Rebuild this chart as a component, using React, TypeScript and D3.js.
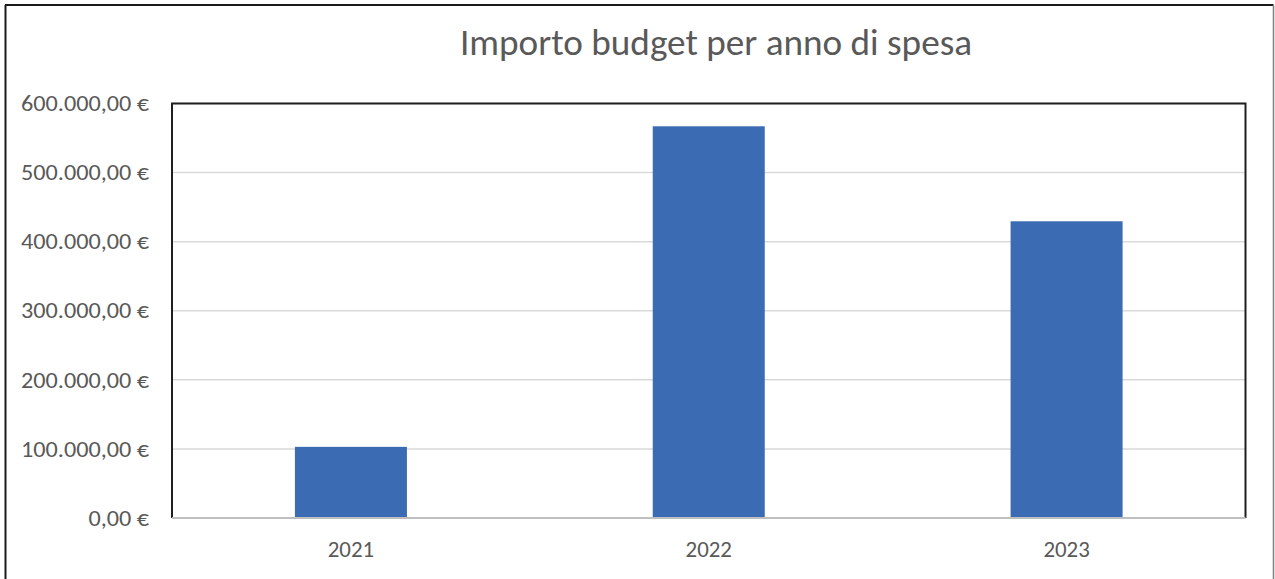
import * as d3 from "d3";

const years = ["2021", "2022", "2023"];
const amounts = [103000, 567000, 429500];
const yTicks = [0, 100000, 200000, 300000, 400000, 500000, 600000];

const width = 1275;
const height = 579;
const margin = { top: 103.5, right: 29.5, bottom: 61, left: 172 };

const fmtIt = (v: number) => {
  const [int, dec] = v.toFixed(2).split(".");
  return int.replace(/\B(?=(\d{3})+(?!\d))/g, ".") + "," + dec + " €";
};

const App = () => {
  const x = d3
    .scaleBand<string>()
    .domain(years)
    .range([margin.left, width - margin.right])
    .paddingInner(0.687)
    .paddingOuter(0.3435);
  const y = d3
    .scaleLinear()
    .domain([0, 600000])
    .range([height - margin.bottom, margin.top]);

  const font = "Carlito, Calibri, 'Liberation Sans', sans-serif";
  const grey = "#595959";

  return (
    <div style={{ position: "absolute", left: 0, top: 0 }}>
      <svg width={width} height={height} viewBox={`0 0 ${width} ${height}`} fontFamily={font}>
        <rect x={0} y={0} width={width} height={height} fill="#fff" />
        {/* outer frame */}
        <line x1={5.5} y1={5} x2={5.5} y2={height} stroke="#1a1a1a" strokeWidth={2} />
        <line x1={5} y1={5} x2={width - 1.5} y2={5} stroke="#1a1a1a" strokeWidth={2} />
        <line x1={width - 1.5} y1={5} x2={width - 1.5} y2={height} stroke="#7f7f7f" strokeWidth={1.5} />

        <text x={716} y={55} textAnchor="middle" fontSize={36} fill={grey} textLength={512} lengthAdjust="spacingAndGlyphs">
          Importo budget per anno di spesa
        </text>

        {yTicks.slice(1).map((t) => (
          <line key={t} x1={margin.left} x2={width - margin.right} y1={y(t)} y2={y(t)} stroke="#d9d9d9" strokeWidth={1.5} />
        ))}

        {years.map((yr, i) => (
          <rect
            key={yr}
            x={x(yr)}
            y={y(amounts[i])}
            width={x.bandwidth()}
            height={y(0) - y(amounts[i])}
            fill="#3b6bb3"
          />
        ))}

        {/* plot border */}
        <path
          d={`M${margin.left},${y(0)} V${margin.top} H${width - margin.right} V${y(0)}`}
          fill="none"
          stroke="#1f1f1f"
          strokeWidth={2}
        />
        <line x1={margin.left} x2={width - margin.right} y1={y(0)} y2={y(0)} stroke="#bfbfbf" strokeWidth={2} />

        {yTicks.map((t) => (
          <text
            key={t}
            transform={`translate(149,${y(t)}) scale(1.1,1)`}
            dy="0.35em"
            textAnchor="end"
            fontSize={22}
            fill={grey}
          >
            {fmtIt(t)}
          </text>
        ))}

        {years.map((yr) => (
          <text
            key={yr}
            transform={`translate(${(x(yr) ?? 0) + x.bandwidth() / 2},557) scale(1.04,1)`}
            textAnchor="middle"
            fontSize={22}
            fill={grey}
          >
            {yr}
          </text>
        ))}
      </svg>
    </div>
  );
};

export default App;
